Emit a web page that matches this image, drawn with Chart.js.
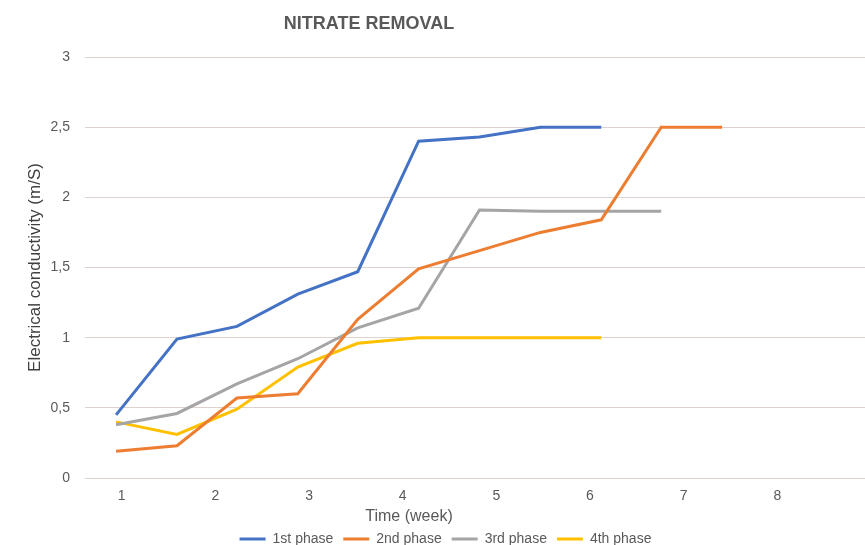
<!DOCTYPE html>
<html>
<head>
<meta charset="utf-8">
<title>Nitrate removal</title>
<script src="https://cdn.jsdelivr.net/npm/chart.js@4/dist/chart.umd.min.js"></script>
<style>
  html, body { margin: 0; padding: 0; background: #fff; }
</style>
</head>
<body>
<canvas id="nitrate" width="865" height="545"></canvas>
<script>
// sampling times in weeks (shared by all four phases)
const weeks = [0.94, 1.59, 2.23, 2.88, 3.52, 4.17, 4.82, 5.47, 6.12, 6.76, 7.41];

// electrical conductivity per phase (m/S)
const phase1 = [0.45, 0.99, 1.08, 1.31, 1.47, 2.40, 2.43, 2.50, 2.50];
const phase2 = [0.19, 0.23, 0.57, 0.60, 1.13, 1.49, 1.62, 1.75, 1.84, 2.50, 2.50];
const phase3 = [0.38, 0.46, 0.67, 0.85, 1.07, 1.21, 1.91, 1.90, 1.90, 1.90];
const phase4 = [0.40, 0.31, 0.49, 0.79, 0.96, 1.00, 1.00, 1.00, 1.00];

const phaseNames = ['1st phase', '2nd phase', '3rd phase', '4th phase'];
const phaseColors = ['#4472C4', '#ED7D31', '#A5A5A5', '#FFC000'];

const weekTicks = [1, 2, 3, 4, 5, 6, 7, 8];
const conductivityTicks = ['0', '0,5', '1', '1,5', '2', '2,5', '3'];

const textColor = '#595959';
const fontFamily = '"Liberation Sans", Arial, sans-serif';

function toPoints(values) {
    return values.map((v, i) => ({ x: weeks[i], y: v }));
}

// title and x axis caption sit off-centre, so they are painted by hand
const captions = {
    id: 'captions',
    afterLayout(chart) {
        // nudge the legend row a little to the right
        chart.legend.left += 13;
        chart.legend.right += 13;
    },
    afterDraw(chart) {
        const ctx = chart.ctx;
        ctx.save();
        ctx.fillStyle = textColor;
        ctx.textAlign = 'center';
        ctx.textBaseline = 'middle';
        ctx.font = 'bold 18px ' + fontFamily;
        ctx.fillText('NITRATE REMOVAL', 369, 24);
        ctx.font = '16px ' + fontFamily;
        ctx.fillText('Time (week)', 409, 517);
        ctx.restore();
    },
};

let ctx = document.getElementById('nitrate');
let chart = new Chart(ctx, {
    type: 'line',
    data: {
        datasets: [phase1, phase2, phase3, phase4].map((values, i) => ({
            label: phaseNames[i],
            data: toPoints(values),
            borderColor: phaseColors[i],
            backgroundColor: phaseColors[i],
            borderWidth: 3,
            pointRadius: 0,
            tension: 0,
        })),
    },
    options: {
        responsive: false,
        animation: false,
        devicePixelRatio: 1,
        layout: {
            padding: { top: 57, right: 0, bottom: -11, left: 0 },
        },
        scales: {
            x: {
                type: 'linear',
                min: 0.608,
                max: 8.936,
                afterBuildTicks: (scale) => {
                    scale.ticks = weekTicks.map((v) => ({ value: v }));
                },
                afterFit: (scale) => {
                    scale.height = 44;
                },
                grid: { display: false },
                border: { display: false },
                ticks: {
                    color: textColor,
                    font: { family: fontFamily, size: 14 },
                    padding: 2,
                    maxRotation: 0,
                },
            },
            y: {
                min: 0,
                max: 3,
                afterFit: (scale) => {
                    scale.width = 85;
                },
                grid: {
                    color: '#DCD3CF',
                    drawTicks: false,
                },
                border: { display: false },
                ticks: {
                    stepSize: 0.5,
                    color: textColor,
                    font: { family: fontFamily, size: 14 },
                    padding: 15,
                    callback: (value, index) => conductivityTicks[index],
                },
                title: {
                    display: true,
                    text: 'Electrical conductivity (m/S)',
                    color: '#404040',
                    font: { family: fontFamily, size: 17 },
                    padding: { top: 25, bottom: 0 },
                },
            },
        },
        plugins: {
            legend: {
                position: 'bottom',
                labels: {
                    usePointStyle: true,
                    pointStyle: 'line',
                    pointStyleWidth: 26,
                    padding: 10,
                    color: textColor,
                    font: { family: fontFamily, size: 14 },
                },
            },
            title: { display: false },
            tooltip: { enabled: false },
        },
    },
    plugins: [captions],
});
</script>
</body>
</html>
